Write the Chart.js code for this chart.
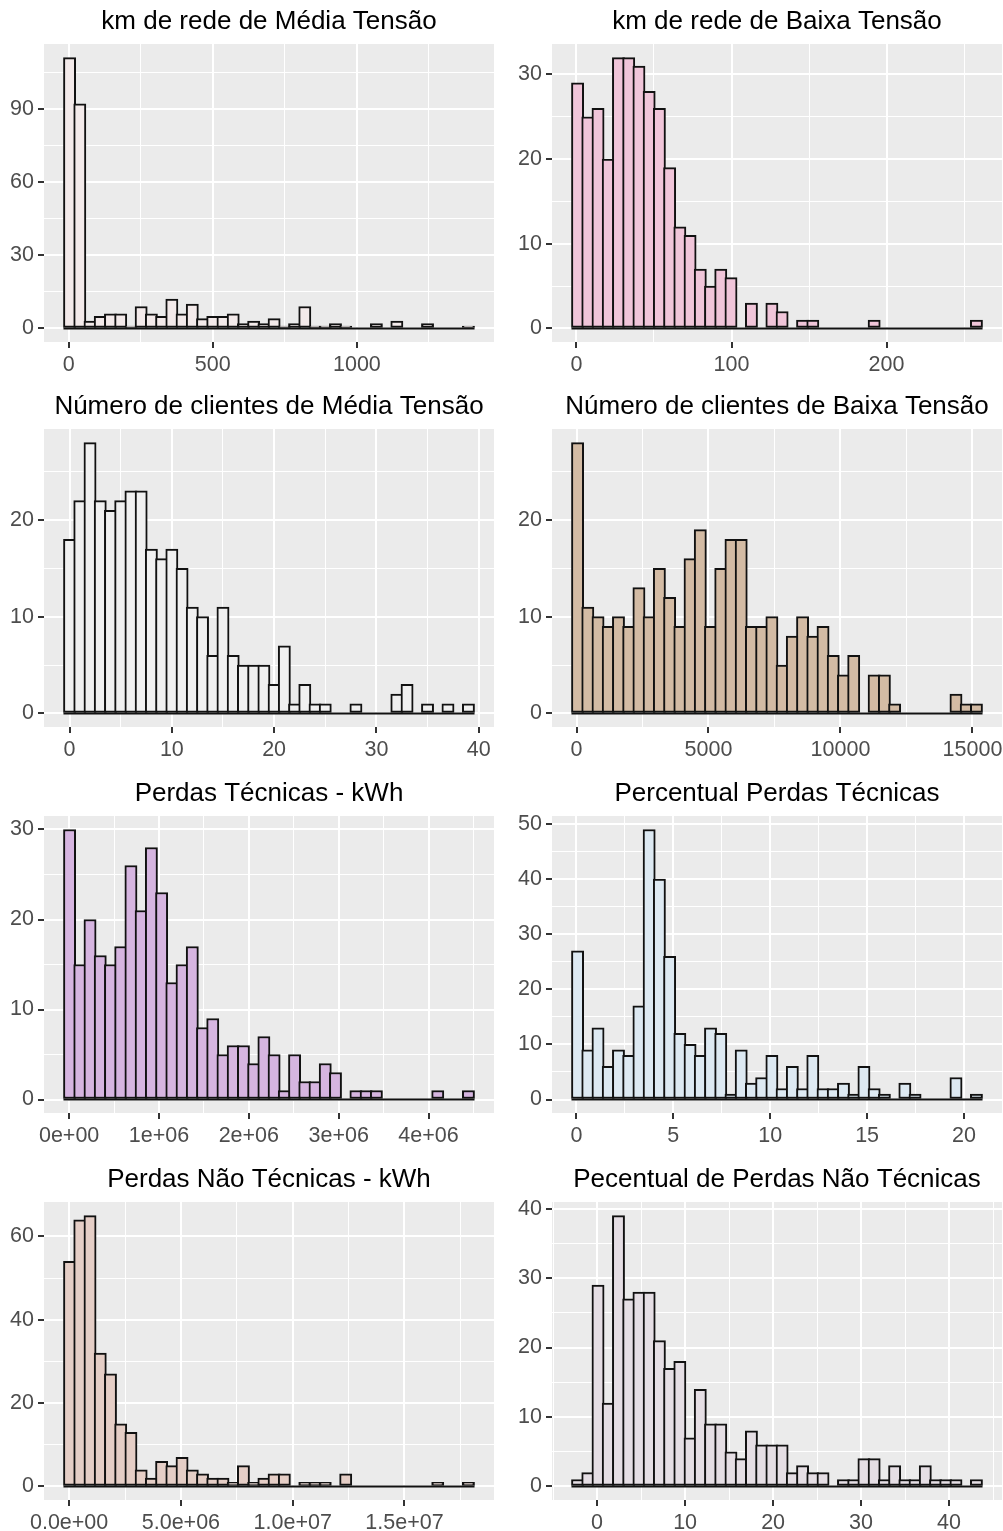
<!DOCTYPE html>
<html>
<head>
<meta charset="utf-8">
<script src="https://cdn.jsdelivr.net/npm/chart.js@4.4.0/dist/chart.umd.min.js"></script>
<style>
  html, body { margin: 0; padding: 0; background: #fff; }
  body { width: 1003px; height: 1531px; position: relative; overflow: hidden; }
  canvas { position: absolute; }
</style>
</head>
<body>
<script>
// histogram counts, 40 bins per panel
const kmMediaCounts = [111, 92, 3, 5, 6, 6, 1, 9, 6, 5, 12, 6, 10, 4, 5, 5, 6, 2, 3, 2,
  4, 1, 2, 9, 1, 1, 2, 1, 0, 0, 2, 0, 3, 0, 0, 2, 0, 0, 0, 1];
const kmBaixaCounts = [29, 25, 26, 20, 32, 32, 31, 28, 26, 19, 12, 11, 7, 5, 7, 6, 0, 3, 0, 3,
  2, 0, 1, 1, 0, 0, 0, 0, 0, 1, 0, 0, 0, 0, 0, 0, 0, 0, 0, 1];
const cliMediaCounts = [18, 22, 28, 22, 21, 22, 23, 23, 17, 16, 17, 15, 11, 10, 6, 11, 6, 5, 5, 5,
  3, 7, 1, 3, 1, 1, 0, 0, 1, 0, 0, 0, 2, 3, 0, 1, 0, 1, 0, 1];
const cliBaixaCounts = [28, 11, 10, 9, 10, 9, 13, 10, 15, 12, 9, 16, 19, 9, 15, 18, 18, 9, 9, 10,
  5, 8, 10, 8, 9, 6, 4, 6, 0, 4, 4, 1, 0, 0, 0, 0, 0, 2, 1, 1];
const perdasTecCounts = [30, 15, 20, 16, 15, 17, 26, 21, 28, 23, 13, 15, 17, 8, 9, 5, 6, 6, 4, 7,
  5, 1, 5, 2, 2, 4, 3, 0, 1, 1, 1, 0, 0, 0, 0, 0, 1, 0, 0, 1];
const pctTecCounts = [27, 9, 13, 6, 9, 8, 17, 49, 40, 26, 12, 10, 8, 13, 12, 1, 9, 3, 4, 8,
  2, 6, 2, 8, 2, 2, 3, 1, 6, 2, 1, 0, 3, 1, 0, 0, 0, 4, 0, 1];
const perdasNTCounts = [54, 64, 65, 32, 27, 15, 13, 4, 2, 6, 5, 7, 4, 3, 2, 2, 1, 5, 1, 2,
  3, 3, 0, 1, 1, 1, 0, 3, 0, 0, 0, 0, 0, 0, 0, 0, 1, 0, 0, 1];
const pctNTCounts = [1, 2, 29, 12, 39, 27, 28, 28, 21, 17, 18, 7, 14, 9, 9, 5, 4, 8, 6, 6,
  6, 2, 3, 2, 2, 0, 1, 1, 4, 4, 1, 3, 1, 1, 3, 1, 1, 1, 0, 1];

// centre of first and last bin
const kmMediaRange = [3, 1387];
const kmBaixaRange = [0.7, 258];
const cliMediaRange = [0, 39];
const cliBaixaRange = [40, 15150];
const perdasTecRange = [5000, 4444000];
const pctTecRange = [0.06, 20.64];
const perdasNTRange = [20000, 17860000];
const pctNTRange = [-2.22, 43.11];

// axis breaks and labels
const kmMediaXBreaks = [0, 500, 1000];
const kmMediaXLabels = ['0', '500', '1000'];
const kmMediaYBreaks = [0, 30, 60, 90];
const kmBaixaXBreaks = [0, 100, 200];
const kmBaixaXLabels = ['0', '100', '200'];
const kmBaixaYBreaks = [0, 10, 20, 30];
const cliMediaXBreaks = [0, 10, 20, 30, 40];
const cliMediaXLabels = ['0', '10', '20', '30', '40'];
const cliMediaYBreaks = [0, 10, 20];
const cliBaixaXBreaks = [0, 5000, 10000, 15000];
const cliBaixaXLabels = ['0', '5000', '10000', '15000'];
const cliBaixaYBreaks = [0, 10, 20];
const perdasTecXBreaks = [0, 1e6, 2e6, 3e6, 4e6];
const perdasTecXLabels = ['0e+00', '1e+06', '2e+06', '3e+06', '4e+06'];
const perdasTecYBreaks = [0, 10, 20, 30];
const pctTecXBreaks = [0, 5, 10, 15, 20];
const pctTecXLabels = ['0', '5', '10', '15', '20'];
const pctTecYBreaks = [0, 10, 20, 30, 40, 50];
const perdasNTXBreaks = [0, 5e6, 1e7, 1.5e7];
const perdasNTXLabels = ['0.0e+00', '5.0e+06', '1.0e+07', '1.5e+07'];
const perdasNTYBreaks = [0, 20, 40, 60];
const pctNTXBreaks = [0, 10, 20, 30, 40];
const pctNTXLabels = ['0', '10', '20', '30', '40'];
const pctNTYBreaks = [0, 10, 20, 30, 40];

const titles = [
  'km de rede de Média Tensão', 'km de rede de Baixa Tensão',
  'Número de clientes de Média Tensão', 'Número de clientes de Baixa Tensão',
  'Perdas Técnicas - kWh', 'Percentual Perdas Técnicas',
  'Perdas Não Técnicas - kWh', 'Pecentual de Perdas Não Técnicas'
];
const fills = ['#F3EAEA', '#F0C5D9', '#F0F0F0', '#D3BBA4', '#D6B5E0', '#DDE9F2', '#E5CEC6', '#E5DEE4'];

const FONT = "'Liberation Sans', Arial, sans-serif";

// cell boxes of the 2x4 grid (canvas + panel edges)
const cols = [
  { x: 0, w: 500, left: 44, right: 494 },
  { x: 500, w: 503, left: 552, right: 1002 }
];
const rows = [
  { y: 0, h: 385, top: 44, bottom: 342 },
  { y: 385, h: 387, top: 429, bottom: 727 },
  { y: 772, h: 386, top: 816, bottom: 1113 },
  { y: 1158, h: 373, top: 1202, bottom: 1500 }
];

const panels = [
  { counts: kmMediaCounts, range: kmMediaRange, xb: kmMediaXBreaks, xl: kmMediaXLabels, yb: kmMediaYBreaks },
  { counts: kmBaixaCounts, range: kmBaixaRange, xb: kmBaixaXBreaks, xl: kmBaixaXLabels, yb: kmBaixaYBreaks },
  { counts: cliMediaCounts, range: cliMediaRange, xb: cliMediaXBreaks, xl: cliMediaXLabels, yb: cliMediaYBreaks },
  { counts: cliBaixaCounts, range: cliBaixaRange, xb: cliBaixaXBreaks, xl: cliBaixaXLabels, yb: cliBaixaYBreaks },
  { counts: perdasTecCounts, range: perdasTecRange, xb: perdasTecXBreaks, xl: perdasTecXLabels, yb: perdasTecYBreaks },
  { counts: pctTecCounts, range: pctTecRange, xb: pctTecXBreaks, xl: pctTecXLabels, yb: pctTecYBreaks },
  { counts: perdasNTCounts, range: perdasNTRange, xb: perdasNTXBreaks, xl: perdasNTXLabels, yb: perdasNTYBreaks },
  { counts: pctNTCounts, range: pctNTRange, xb: pctNTXBreaks, xl: pctNTXLabels, yb: pctNTYBreaks }
];

// major breaks plus ggplot-style minor breaks inside [min, max]
const withMinor = (breaks, min, max) => {
  const step = breaks[1] - breaks[0];
  const all = breaks.slice();
  all.push(breaks[0] - step / 2, breaks[breaks.length - 1] + step / 2);
  for (let i = 0; i < breaks.length - 1; i++) all.push((breaks[i] + breaks[i + 1]) / 2);
  return all.filter(v => v >= min && v <= max).sort((a, b) => a - b);
};
const majorIndex = (breaks, v) => {
  const eps = Math.abs(breaks[1] - breaks[0]) * 1e-6;
  return breaks.findIndex(b => Math.abs(b - v) < eps);
};

const panelBg = {
  id: 'panelBg',
  beforeDraw(chart) {
    const { ctx, chartArea: a } = chart;
    ctx.save();
    ctx.fillStyle = '#EBEBEB';
    ctx.fillRect(a.left, a.top, a.right - a.left, a.bottom - a.top);
    ctx.restore();
  }
};

// zero-height bins still get an outline at y = 0
const baseline = {
  id: 'baseline',
  afterDatasetsDraw(chart, args, opts) {
    const { ctx, scales: { x, y } } = chart;
    const y0 = y.getPixelForValue(0);
    ctx.save();
    ctx.strokeStyle = '#111';
    ctx.lineWidth = 2;
    ctx.beginPath();
    ctx.moveTo(x.getPixelForValue(opts.lo) - 1, y0);
    ctx.lineTo(x.getPixelForValue(opts.hi) + 1, y0);
    ctx.stroke();
    ctx.restore();
  }
};

function makeHist(p, idx) {
  const col = cols[idx % 2];
  const row = rows[Math.floor(idx / 2)];
  const cv = document.createElement('canvas');
  cv.width = col.w;
  cv.height = row.h;
  cv.style.left = col.x + 'px';
  cv.style.top = row.y + 'px';
  document.body.appendChild(cv);

  const n = p.counts.length;
  const w = (p.range[1] - p.range[0]) / (n - 1);
  const lo = p.range[0] - w / 2, hi = p.range[1] + w / 2;
  const xMin = lo - 0.05 * (hi - lo), xMax = hi + 0.05 * (hi - lo);
  const top = Math.max(...p.counts);
  const yMin = -0.05 * top, yMax = 1.05 * top;
  const pts = p.counts.map((c, i) => ({ x: p.range[0] + i * w, y: c }));
  const barPx = w * (col.right - col.left) / (xMax - xMin) + 2;

  const xTicks = withMinor(p.xb, xMin, xMax);
  const yTicks = withMinor(p.yb, yMin, yMax);
  const isMajX = c => c.tick && majorIndex(p.xb, c.tick.value) >= 0;
  const isMajY = c => c.tick && majorIndex(p.yb, c.tick.value) >= 0;

  new Chart(cv, {
    type: 'bar',
    data: {
      datasets: [{
        data: pts,
        backgroundColor: fills[idx],
        borderColor: '#111',
        borderWidth: 2,
        borderSkipped: false,
        barThickness: barPx
      }]
    },
    options: {
      responsive: false,
      animation: false,
      devicePixelRatio: 1,
      layout: { padding: { left: 0, top: 0, bottom: 0, right: col.x + col.w - col.right } },
      plugins: {
        legend: { display: false },
        tooltip: { enabled: false },
        title: {
          display: true,
          text: titles[idx],
          fullSize: false,
          color: '#000',
          font: { family: FONT, size: 26, weight: 'normal', lineHeight: 1.2 },
          padding: { top: 6.4, bottom: 6.4 }
        },
        baseline: { lo: lo, hi: hi }
      },
      scales: {
        x: {
          type: 'linear',
          min: xMin,
          max: xMax,
          offset: false,
          afterBuildTicks: s => { s.ticks = xTicks.map(v => ({ value: v })); },
          afterFit: s => {
            s.height = row.y + row.h - row.bottom;
            s.paddingLeft = 0;
            s.paddingRight = 0;
          },
          border: { display: false },
          grid: {
            offset: false,
            color: '#FFFFFF',
            lineWidth: c => isMajX(c) ? 2 : 1,
            tickLength: 6,
            tickWidth: 2,
            tickColor: c => isMajX(c) ? '#333333' : 'rgba(0,0,0,0)'
          },
          ticks: {
            autoSkip: false,
            maxRotation: 0,
            padding: 4,
            color: '#4D4D4D',
            font: { family: FONT, size: 21.5 },
            callback: v => {
              const k = majorIndex(p.xb, v);
              return k >= 0 ? p.xl[k] : '';
            }
          }
        },
        y: {
          min: yMin,
          max: yMax,
          afterBuildTicks: s => { s.ticks = yTicks.map(v => ({ value: v })); },
          afterFit: s => {
            s.width = col.left - col.x;
            s.paddingTop = 0;
            s.paddingBottom = 0;
          },
          border: { display: false },
          grid: {
            color: '#FFFFFF',
            lineWidth: c => isMajY(c) ? 2 : 1,
            tickLength: 6,
            tickWidth: 2,
            tickColor: c => isMajY(c) ? '#333333' : 'rgba(0,0,0,0)'
          },
          ticks: {
            autoSkip: false,
            padding: 4,
            color: '#4D4D4D',
            font: { family: FONT, size: 21.5 },
            callback: v => majorIndex(p.yb, v) >= 0 ? String(Math.round(v)) : ''
          }
        }
      }
    },
    plugins: [panelBg, baseline]
  });
}

panels.forEach((p, i) => makeHist(p, i));
</script>
</body>
</html>
